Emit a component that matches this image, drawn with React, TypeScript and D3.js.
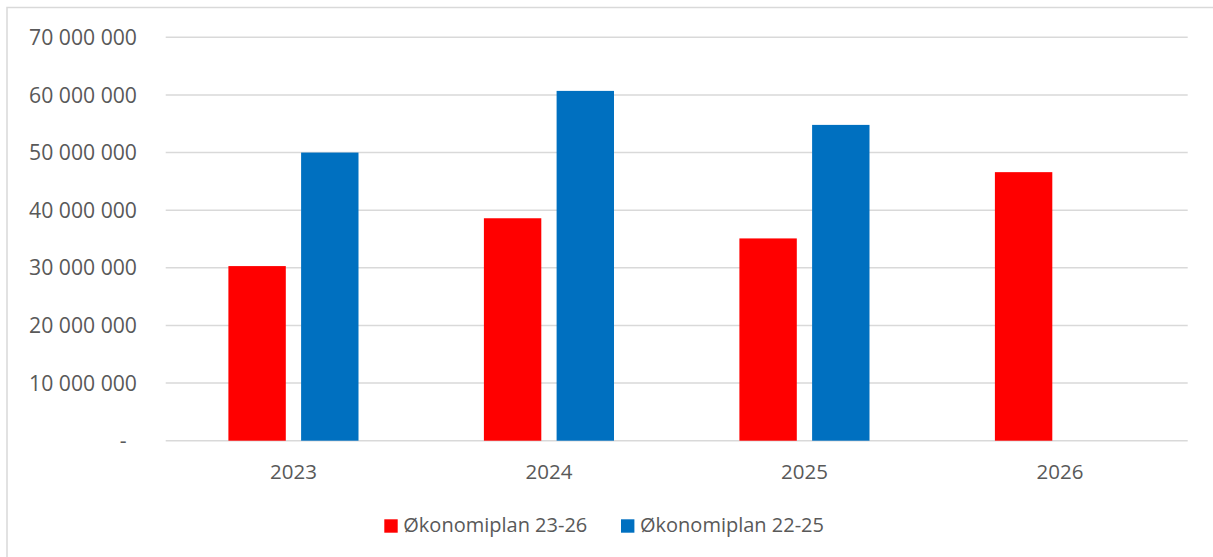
import React from "react";
import * as d3 from "d3";

const years = ["2023", "2024", "2025", "2026"];
const seriesNames = ["Økonomiplan 23-26", "Økonomiplan 22-25"];
const plan2326 = [30300000, 38600000, 35100000, 46600000];
const plan2225: (number | null)[] = [50000000, 60700000, 54800000, null];
const yTicks = [0, 10000000, 20000000, 30000000, 40000000, 50000000, 60000000, 70000000];
const colors = ["#ff0000", "#0070c0"];

const W = 1213;
const H = 557;
const plot = { left: 165.7, right: 1187.7, top: 37.3, bottom: 440.7 };
const FONT = "'Open Sans', 'Segoe UI', sans-serif";
const TEXT = "#595959";

const fmt = (v: number) =>
  v === 0 ? "-" : d3.format(",")(v).replace(/,/g, " ");

export default function App() {
  const x0 = d3
    .scaleBand<string>()
    .domain(years)
    .range([plot.left, plot.right])
    .paddingInner(0)
    .paddingOuter(0);
  const y = d3.scaleLinear().domain([0, 70000000]).range([plot.bottom, plot.top]);

  const barW = 57.4;
  const gap = 15.3;
  const seriesData = [plan2326, plan2225];

  return (
    <svg
      width={W}
      height={H}
      style={{ position: "absolute", left: 0, top: 0, background: "#fff" }}
      fontFamily={FONT}
    >
      <rect x={0} y={0} width={W} height={H} fill="#fff" />
      <rect x={7} y={7.5} width={W + 10} height={H + 10} fill="none" stroke="#d9d9d9" strokeWidth={1.5} />

      {yTicks.map((t) => (
        <g key={t}>
          <line
            x1={plot.left}
            x2={plot.right}
            y1={y(t)}
            y2={y(t)}
            stroke="#d9d9d9"
            strokeWidth={1.4}
          />
          <text
            x={t === 0 ? 126.5 : 137}
            y={y(t)}
            dy="0.36em"
            textAnchor="end"
            fontSize={21.2}
            fill={TEXT}
          >
            {fmt(t)}
          </text>
        </g>
      ))}

      {years.map((yr, i) => {
        const c = (x0(yr) as number) + x0.bandwidth() / 2;
        return (
          <g key={yr}>
            {seriesData.map((s, si) => {
              const v = s[i];
              if (v == null) return null;
              const bx = si === 0 ? c - gap / 2 - barW : c + gap / 2;
              return (
                <rect
                  key={si}
                  x={bx}
                  y={y(v)}
                  width={barW}
                  height={y(0) - y(v)}
                  fill={colors[si]}
                />
              );
            })}
            <text x={c} y={478.5} textAnchor="middle" fontSize={20.5} fill={TEXT}>
              {yr}
            </text>
          </g>
        );
      })}

      {/* legend */}
      {seriesNames.map((name, i) => {
        const lx = i === 0 ? 384.3 : 621;
        return (
          <g key={name}>
            <rect x={lx} y={519.3} width={13.4} height={13.4} fill={colors[i]} />
            <text x={lx + 19} y={532} fontSize={20} fill={TEXT}>
              {name}
            </text>
          </g>
        );
      })}
    </svg>
  );
}
